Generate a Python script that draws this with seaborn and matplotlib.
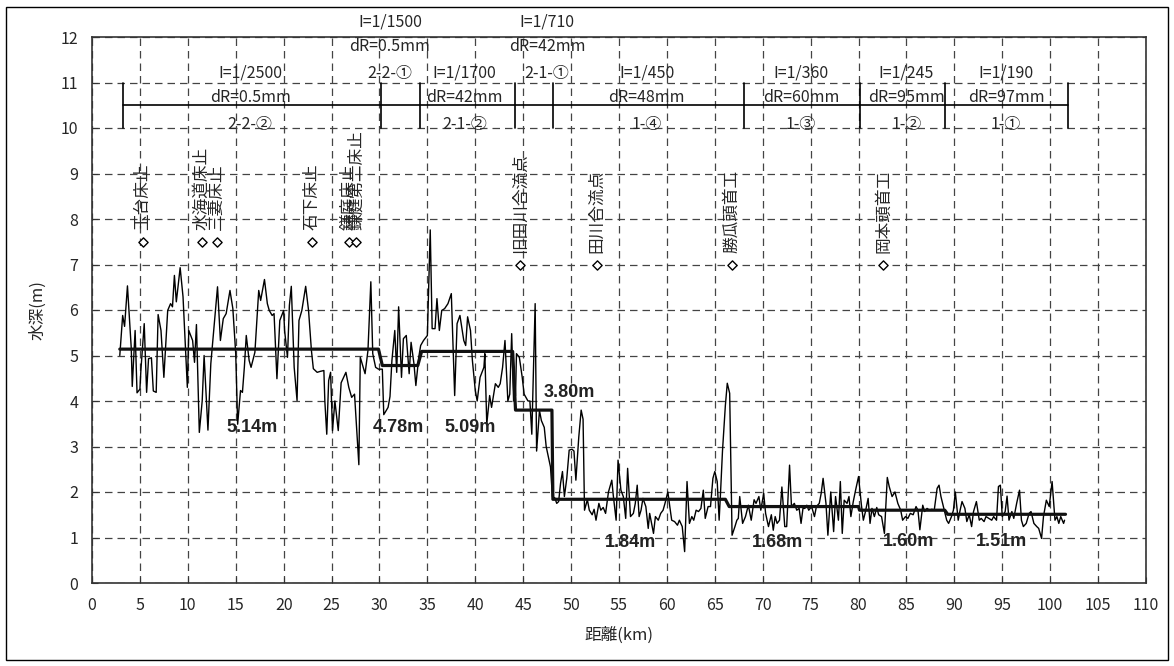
import matplotlib
matplotlib.use("Agg")
import matplotlib.pyplot as plt
import seaborn as sns
import pandas as pd
from matplotlib.patches import Rectangle

# ---------------- data ----------------
distance_km = [
    2.9, 3.2, 3.4, 3.7, 4.1, 4.2, 4.5, 4.7, 5.0, 5.1, 5.45, 5.7, 5.9, 6.2, 6.4, 6.7, 6.9, 7.2, 7.5, 7.9,
    8.2, 8.4, 8.6, 8.8, 9.2, 9.5, 9.95, 10.1, 10.5, 10.7, 10.9, 11.2, 11.5, 11.7, 12.1, 12.4, 12.7, 13.1,
    13.4, 13.7, 14.0, 14.4, 14.7, 15.0, 15.2, 15.5, 15.7, 15.9, 16.1, 16.4, 16.6, 17.0, 17.4, 17.6, 18.0,
    18.3, 18.5, 18.8, 19.0, 19.3, 19.6, 20.0, 20.1, 20.4, 20.6, 20.8, 21.1, 21.4, 21.6, 21.9, 22.3, 22.6,
    22.9, 23.1, 23.5, 23.8, 24.2, 24.3, 24.5, 24.7, 24.9, 25.1, 25.35, 25.7, 26.0, 26.5, 26.8, 27.1, 27.4,
    27.85, 28.0, 28.5, 28.8, 29.1, 29.3, 29.6, 29.9, 30.3, 30.45, 30.9, 31.1, 31.3, 31.6, 31.8, 32.0, 32.3,
    32.5, 32.8, 33.1, 33.3, 33.6, 33.8, 34.1, 34.3, 34.6, 35.0, 35.3, 35.5, 35.8, 36.0, 36.25, 36.5, 36.8,
    37.15, 37.5, 37.85, 38.1, 38.4, 38.8, 39.0, 39.2, 39.5, 39.7, 40.0, 40.2, 40.5, 40.9, 41.0, 41.2, 41.5,
    41.7, 42.1, 42.4, 42.6, 42.85, 43.1, 43.4, 43.6, 43.8, 44.0, 44.2, 44.3, 44.6, 44.9, 45.1, 45.5, 45.7,
    45.9, 46.25, 46.4, 46.7, 46.9, 47.2, 47.4, 47.6, 47.85, 48.05, 48.3, 48.5, 48.7, 48.9, 49.1, 49.3,
    49.55, 49.8, 50.1, 50.3, 50.5, 50.8, 51.05, 51.25, 51.4, 51.7, 51.9, 52.2, 52.4, 52.6, 52.9, 53.1,
    53.35, 53.6, 53.9, 54.25, 54.4, 54.7, 54.9, 55.2, 55.45, 55.7, 55.9, 56.2, 56.5, 56.7, 56.9, 57.1,
    57.3, 57.5, 57.8, 58.05, 58.2, 58.6, 58.8, 59.1, 59.35, 59.6, 59.8, 60.1, 60.3, 60.5, 60.8, 61.1,
    61.3, 61.6, 61.85, 62.1, 62.35, 62.6, 62.8, 63.05, 63.3, 63.55, 63.8, 64.0, 64.3, 64.55, 64.8, 65.0,
    65.25, 65.45, 65.6, 65.8, 66.1, 66.3, 66.55, 66.8, 67.1, 67.3, 67.45, 67.6, 67.9, 68.2, 68.5, 68.8,
    69.1, 69.3, 69.6, 69.8, 70.1, 70.3, 70.6, 70.9, 71.1, 71.3, 71.5, 71.75, 72.0, 72.3, 72.5, 72.8, 73.0,
    73.3, 73.55, 73.8, 74.0, 74.2, 74.4, 74.6, 74.8, 75.1, 75.4, 75.6, 75.9, 76.1, 76.3, 76.6, 76.8, 77.1,
    77.4, 77.6, 77.9, 78.1, 78.3, 78.5, 78.8, 79.0, 79.2, 79.45, 79.7, 80.0, 80.3, 80.5, 80.7, 81.0, 81.2,
    81.4, 81.65, 81.9, 82.1, 82.4, 82.7, 83.0, 83.2, 83.5, 83.8, 84.1, 84.4, 84.6, 84.9, 85.15, 85.4,
    85.7, 86.0, 86.2, 86.4, 86.7, 86.9, 87.15, 87.4, 87.65, 87.9, 88.2, 88.4, 88.6, 88.9, 89.2, 89.4,
    89.7, 89.9, 90.1, 90.4, 90.6, 90.8, 91.1, 91.3, 91.55, 91.8, 92.0, 92.3, 92.6, 92.8, 93.1, 93.3,
    93.6, 93.9, 94.1, 94.4, 94.6, 94.8, 95.0, 95.3, 95.5, 95.7, 96.0, 96.2, 96.5, 96.8, 97.0, 97.2, 97.5,
    97.8, 98.0, 98.3, 98.6, 98.8, 99.1, 99.3, 99.6, 99.9, 100.0, 100.2, 100.5, 100.7, 100.9, 101.1,
    101.4, 101.5,
]
depth_m = [
    5.00, 5.88, 5.64, 6.53, 5.15, 4.32, 5.55, 4.18, 4.26, 4.67, 5.70, 4.19, 4.93, 4.95, 4.22, 4.19, 5.90,
    5.55, 4.52, 5.99, 6.14, 6.07, 6.76, 6.18, 6.93, 6.29, 4.30, 5.55, 5.33, 4.85, 5.68, 3.31, 4.00, 5.00,
    3.36, 4.82, 5.55, 6.51, 5.33, 5.81, 5.92, 6.43, 6.03, 5.04, 3.49, 4.23, 4.19, 4.74, 5.44, 4.89, 4.74,
    5.07, 6.43, 6.21, 6.67, 6.14, 5.99, 5.88, 5.92, 4.49, 5.77, 5.99, 5.55, 4.96, 6.10, 6.52, 4.74, 4.01,
    5.77, 5.99, 6.52, 5.99, 5.11, 4.71, 4.63, 4.65, 4.67, 4.00, 3.27, 4.45, 4.63, 3.35, 4.00, 3.35, 4.40,
    4.63, 4.30, 4.08, 4.15, 2.60, 4.96, 4.60, 5.11, 6.62, 5.04, 4.74, 4.70, 4.70, 3.70, 3.86, 4.10, 4.89,
    5.55, 4.63, 6.07, 4.52, 5.37, 5.44, 4.60, 5.29, 4.82, 4.34, 4.96, 5.22, 5.33, 5.44, 7.76, 5.59, 5.59,
    6.25, 5.55, 5.99, 6.03, 6.14, 6.36, 4.12, 5.70, 5.88, 5.33, 5.22, 5.85, 5.55, 4.89, 4.23, 4.00, 4.52,
    4.74, 5.04, 3.49, 4.12, 3.86, 4.38, 4.30, 4.38, 4.74, 5.33, 4.00, 4.15, 5.48, 4.00, 4.12, 5.04, 4.96,
    4.52, 4.15, 4.00, 4.00, 3.27, 6.14, 2.90, 3.79, 3.57, 3.42, 3.00, 2.80, 2.55, 1.90, 1.87, 1.75, 1.79,
    2.19, 2.45, 1.90, 2.30, 2.92, 2.94, 2.90, 2.26, 3.20, 3.80, 3.60, 1.60, 1.83, 1.60, 1.50, 1.62, 1.38,
    1.75, 1.60, 1.66, 1.53, 2.00, 2.26, 1.93, 1.38, 2.70, 2.04, 1.90, 1.42, 2.52, 1.46, 1.53, 1.75, 2.15,
    1.46, 1.60, 1.86, 1.68, 1.20, 1.53, 1.09, 1.46, 1.38, 1.53, 1.60, 1.75, 2.00, 1.68, 1.38, 1.35, 1.27,
    1.38, 1.24, 0.69, 2.23, 1.31, 1.46, 1.38, 1.60, 1.57, 1.64, 2.04, 1.42, 1.68, 1.68, 2.30, 2.45, 2.23,
    1.38, 2.00, 2.90, 3.90, 4.39, 4.17, 1.05, 1.24, 1.38, 1.42, 1.90, 1.31, 1.46, 1.71, 1.38, 1.83, 1.75,
    1.90, 1.60, 1.97, 1.53, 1.24, 1.50, 1.16, 1.46, 1.31, 1.38, 2.11, 1.24, 1.24, 2.59, 1.68, 1.75, 1.60,
    1.64, 1.31, 1.64, 1.64, 1.71, 1.60, 1.68, 1.46, 1.68, 1.75, 1.97, 2.30, 1.75, 1.05, 2.00, 1.13, 1.90,
    1.38, 2.23, 1.09, 1.82, 1.75, 1.90, 1.46, 1.79, 2.05, 2.34, 1.71, 1.38, 1.55, 1.86, 1.31, 1.64, 1.46,
    1.66, 1.50, 1.46, 1.09, 2.32, 2.12, 1.90, 2.00, 1.75, 1.60, 1.38, 1.46, 1.42, 1.53, 1.50, 1.68, 1.60,
    1.17, 1.71, 1.57, 1.64, 1.60, 1.62, 1.60, 2.08, 2.15, 1.90, 1.64, 1.38, 1.31, 1.46, 1.60, 2.00, 1.38,
    1.60, 1.79, 1.64, 1.35, 1.50, 1.24, 1.57, 1.79, 1.38, 1.42, 1.35, 1.46, 1.42, 1.38, 1.46, 1.38, 2.12,
    2.15, 1.46, 1.57, 1.91, 1.38, 1.57, 1.42, 1.75, 2.04, 1.38, 1.24, 1.31, 1.53, 1.57, 1.31, 1.24, 1.20,
    0.98, 1.46, 1.82, 1.68, 1.86, 2.23, 1.38, 1.46, 1.31, 1.46, 1.31, 1.38,
]

section_start_km = [2.9, 30.3, 34.4, 44.2, 48.1, 66.5, 80.1, 89.3]
section_end_km = [29.9, 34.0, 43.9, 48.0, 66.1, 80.0, 89.0, 101.6]
section_mean_m = [5.14, 4.78, 5.09, 3.80, 1.84, 1.68, 1.60, 1.51]
mean_labels = ["5.14m", "4.78m", "5.09m", "3.80m", "1.84m", "1.68m", "1.60m", "1.51m"]
mean_label_x = [16.7, 32.0, 39.5, 49.8, 56.2, 71.5, 85.2, 94.9]
mean_label_y = [3.41, 3.41, 3.41, 4.18, 0.88, 0.88, 0.91, 0.91]

landmark_names = ["玉台床止", "水海道床止", "三妻床止", "石下床止", "鎌庭床止", "鎌庭第二床止",
                  "旧田川合流点", "田川合流点", "勝瓜頭首工", "岡本頭首工"]
landmark_km = [5.3, 11.45, 13.0, 23.0, 26.8, 27.6, 44.7, 52.7, 66.8, 82.6]
landmark_y = [7.5, 7.5, 7.5, 7.5, 7.5, 7.5, 7.0, 7.0, 7.0, 7.0]

boundary_km = [3.2, 30.2, 34.2, 44.1, 48.1, 68.0, 80.1, 89.0, 101.9]
# lower band (under the 10.5 line)
low_x = [16.5, 38.9, 57.9, 74.0, 85.0, 95.4]
low_slope = ["I=1/2500", "I=1/1700", "I=1/450", "I=1/360", "I=1/245", "I=1/190"]
low_dr = ["dR=0.5mm", "dR=42mm", "dR=48mm", "dR=60mm", "dR=95mm", "dR=97mm"]
low_name = ["2-2-②", "2-1-②", "1-④", "1-③", "1-②", "1-①"]
# upper band (short sections)
up_x = [31.1, 47.5]
up_slope = ["I=1/1500", "I=1/710"]
up_dr = ["dR=0.5mm", "dR=42mm"]
up_name = ["2-2-①", "2-1-①"]

# ---------------- style ----------------
sns.set_style("ticks")
plt.rcParams["font.family"] = ["Noto Sans CJK JP", "DejaVu Sans"]

W, H = 1174, 666
fig = plt.figure(figsize=(W / 100, H / 100), dpi=100)
ax = fig.add_axes([92 / W, 1 - 583 / H, (1146 - 92) / W, (583 - 37) / H])

df = pd.DataFrame({"distance": distance_km, "depth": depth_m})
sns.lineplot(data=df, x="distance", y="depth", ax=ax, color="black", lw=1.0,
             sort=False, estimator=None)

step_x, step_y = [], []
for s, e, m in zip(section_start_km, section_end_km, section_mean_m):
    step_x += [s, e]
    step_y += [m, m]
sns.lineplot(x=step_x, y=step_y, ax=ax, color="#111111", lw=2.3, sort=False, estimator=None)

for t, x, y in zip(mean_labels, mean_label_x, mean_label_y):
    ax.text(x, y, t, ha="center", va="center", fontsize=13, fontweight="bold",
            family="Liberation Sans", color="#222222")

lm = pd.DataFrame({"km": landmark_km, "y": landmark_y})
sns.scatterplot(data=lm, x="km", y="y", ax=ax, marker="D", s=22, facecolor="white",
                edgecolor="black", linewidth=1.0, zorder=5)
for name, x, y in zip(landmark_names, landmark_km, landmark_y):
    ax.text(x, y + 0.25, name, rotation=90, ha="center", va="bottom", fontsize=12)

# section band
ax.plot([boundary_km[0], boundary_km[-1]], [10.5, 10.5], color="black", lw=1.2)
for b in boundary_km:
    ax.plot([b, b], [10.0, 11.0], color="black", lw=1.2)
for x, a, b, c in zip(low_x, low_slope, low_dr, low_name):
    ax.text(x, 11.2, a, ha="center", va="center", fontsize=11.5)
    ax.text(x, 10.68, b, ha="center", va="center", fontsize=11.5)
    ax.text(x, 10.07, c, ha="center", va="center", fontsize=11.5)
for x, a, b, c in zip(up_x, up_slope, up_dr, up_name):
    ax.text(x, 12.34, a, ha="center", va="center", fontsize=11.5, clip_on=False)
    ax.text(x, 11.8, b, ha="center", va="center", fontsize=11.5)
    ax.text(x, 11.2, c, ha="center", va="center", fontsize=11.5)

ax.set_xlim(0, 110)
ax.set_ylim(0, 12)
ax.set_xticks(range(0, 111, 5))
ax.set_yticks(range(0, 13))
ax.grid(True, linestyle=(0, (6, 4)), color="#444444", lw=0.9)
ax.tick_params(direction="in", length=4, labelsize=11.5, pad=10, color="#333333")
for sp in ax.spines.values():
    sp.set_visible(True)
    sp.set_color("#333333")
    sp.set_linewidth(1.2)
ax.set_xlabel("距離(km)", fontsize=12, labelpad=9)
ax.set_ylabel("水深(m)", fontsize=12, labelpad=10)

fig.patches.append(Rectangle((0.005, 0.009), 0.99, 0.981, transform=fig.transFigure,
                             fill=False, edgecolor="black", lw=1.0))

fig.savefig("out.png", dpi=100)
